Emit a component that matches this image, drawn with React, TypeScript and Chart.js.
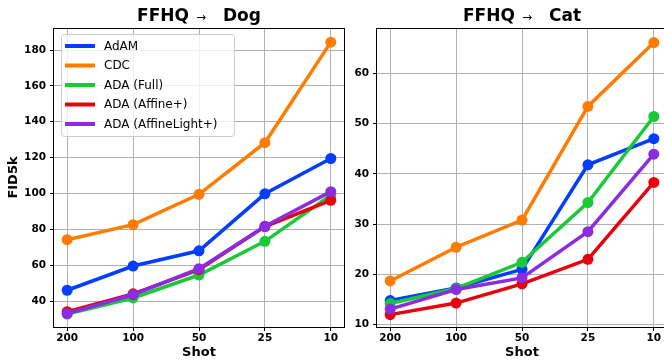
import React, { useEffect, useRef } from "react";
import { Chart, registerables } from "chart.js";

Chart.register(...registerables);

const shots = ["200", "100", "50", "25", "10"];
const seriesLabels = ["AdAM", "CDC", "ADA (Full)", "ADA (Affine+)", "ADA (AffineLight+)"];
const seriesColors = ["#023eff", "#ff7c00", "#1ac938", "#e8000b", "#8b2be2"];

const dogAdAM = [46, 59.5, 68, 99.8, 119.5];
const dogCDC = [74.2, 82.6, 99.5, 128.3, 184.4];
const dogFull = [32.7, 41.7, 54.5, 73.3, 99];
const dogAffine = [34, 44, 57.5, 81.5, 96.2];
const dogLight = [33, 43.5, 58, 81.7, 101];

const catAdAM = [14.8, 17.3, 21, 41.8, 47];
const catCDC = [18.7, 25.4, 30.8, 53.4, 66.1];
const catFull = [14.2, 17.2, 22.4, 34.3, 51.4];
const catAffine = [12, 14.3, 18.1, 23.0, 38.3];
const catLight = [13.1, 17, 19.3, 28.5, 43.9];

const dogYTicks = [40, 60, 80, 100, 120, 140, 160, 180];
const catYTicks = [10, 20, 30, 40, 50, 60];

const FONT = "DejaVu Sans";

function makeDatasets(series: number[][]) {
  return series.map((vals, i) => ({
    label: seriesLabels[i],
    data: vals.map((v, j) => ({ x: j, y: v })),
    borderColor: seriesColors[i],
    backgroundColor: seriesColors[i],
    pointBackgroundColor: seriesColors[i],
    pointBorderWidth: 0,
    pointRadius: 5.5,
    borderWidth: 3.5,
    tension: 0,
    order: series.length - i,
    clip: false as any,
  }));
}

const titlePlugin = (left: string, right: string) => ({
  id: "myTitle",
  afterDraw(chart: any) {
    const ctx = chart.ctx;
    const a = chart.chartArea;
    ctx.save();
    const boldFont = `bold 17px "${FONT}"`;
    const arrowFont = `12px "${FONT}"`;
    const arrow = "\u2192";
    ctx.font = boldFont;
    const wl = ctx.measureText(left).width;
    const wr = ctx.measureText(right).width;
    ctx.font = arrowFont;
    const wa = ctx.measureText(arrow).width;
    const g1 = 7;
    const g2 = 17;
    const total = wl + g1 + wa + g2 + wr;
    let x = (a.left + a.right) / 2 - total / 2;
    const y = 17;
    ctx.fillStyle = "#000";
    ctx.textAlign = "left";
    ctx.textBaseline = "middle";
    ctx.font = boldFont;
    ctx.fillText(left, x, y);
    x += wl + g1;
    ctx.font = arrowFont;
    ctx.fillText(arrow, x, y + 1);
    x += wa + g2;
    ctx.font = boldFont;
    ctx.fillText(right, x, y);
    ctx.restore();
  },
});

const framePlugin = {
  id: "frame",
  afterDatasetsDraw(chart: any) {
    const ctx = chart.ctx;
    const a = chart.chartArea;
    ctx.save();
    ctx.strokeStyle = "#000";
    ctx.lineWidth = 1;
    ctx.strokeRect(Math.round(a.left) - 0.5, Math.round(a.top) + 0.5, Math.round(a.right - a.left) + 1, Math.round(a.bottom - a.top));
    ctx.restore();
  },
};

const legendPlugin = {
  id: "myLegend",
  afterDraw(chart: any) {
    const ctx = chart.ctx;
    const a = chart.chartArea;
    const x0 = a.left + 7;
    const y0 = a.top + 6;
    const w = 173;
    const h = 102;
    ctx.save();
    ctx.beginPath();
    (ctx as any).roundRect(x0 + 0.5, y0 + 0.5, w, h, 3);
    ctx.fillStyle = "rgba(255,255,255,0.8)";
    ctx.fill();
    ctx.strokeStyle = "#cccccc";
    ctx.lineWidth = 1;
    ctx.stroke();
    chart.data.datasets.forEach((ds: any, i: number) => {
      const y = y0 + 12 + i * 19.5;
      ctx.beginPath();
      ctx.moveTo(x0 + 4, y);
      ctx.lineTo(x0 + 34, y);
      ctx.strokeStyle = ds.borderColor;
      ctx.lineWidth = 4;
      ctx.stroke();
      ctx.font = `12px "${FONT}"`;
      ctx.fillStyle = "#000";
      ctx.textAlign = "left";
      ctx.textBaseline = "middle";
      ctx.fillText(ds.label, x0 + 43, y + 0.5);
    });
    ctx.restore();
  },
};

function makeConfig(opts: {
  series: number[][];
  yTicks: number[];
  yMin: number;
  yMax: number;
  yWidth: number;
  yTitle: string | null;
  titleLeft: string;
  titleRight: string;
  padRight: number;
  legend: boolean;
}): any {
  const plugins: any[] = [titlePlugin(opts.titleLeft, opts.titleRight), framePlugin];
  if (opts.legend) plugins.push(legendPlugin);
  return {
    type: "line",
    data: { datasets: makeDatasets(opts.series) },
    plugins,
    options: {
      responsive: false,
      animation: false,
      events: [],
      layout: { padding: { top: 28, right: opts.padRight, left: 0, bottom: 0 } },
      plugins: { legend: { display: false }, tooltip: { enabled: false }, title: { display: false } },
      scales: {
        x: {
          type: "linear",
          min: -0.2,
          max: 4.2,
          afterBuildTicks: (s: any) => {
            s.ticks = shots.map((_, i) => ({ value: i }));
          },
          afterFit: (s: any) => {
            s.height = 33;
          },
          ticks: {
            callback: (v: any) => shots[v] ?? "",
            color: "#000",
            font: { family: FONT, size: 10.5, weight: "bold" },
            padding: 1,
            maxRotation: 0,
            autoSkip: false,
          },
          grid: { color: "#b0b0b0", lineWidth: 1, drawTicks: true, tickLength: 4, tickColor: "#000" },
          border: { display: false },
          title: {
            display: true,
            text: "Shot",
            color: "#000",
            font: { family: FONT, size: 13, weight: "bold" },
            padding: { top: 0, bottom: 0 },
          },
        },
        y: {
          type: "linear",
          min: opts.yMin,
          max: opts.yMax,
          afterBuildTicks: (s: any) => {
            s.ticks = opts.yTicks.map((v) => ({ value: v }));
          },
          afterFit: (s: any) => {
            s.width = opts.yWidth;
          },
          ticks: {
            color: "#000",
            font: { family: FONT, size: 10.5, weight: "bold" },
            padding: 4,
          },
          grid: { color: "#b0b0b0", lineWidth: 1, drawTicks: true, tickLength: 4, tickColor: "#000" },
          border: { display: false },
          title: {
            display: !!opts.yTitle,
            text: opts.yTitle || "",
            color: "#000",
            font: { family: FONT, size: 13, weight: "bold" },
            padding: { top: 6, bottom: 0 },
          },
        },
      },
    },
  };
}

export default function App() {
  const leftRef = useRef<HTMLCanvasElement>(null);
  const rightRef = useRef<HTMLCanvasElement>(null);

  useEffect(() => {
    const c1 = new Chart(
      leftRef.current as HTMLCanvasElement,
      makeConfig({
        series: [dogAdAM, dogCDC, dogFull, dogAffine, dogLight],
        yTicks: dogYTicks,
        yMin: 25.5,
        yMax: 192.3,
        yWidth: 54,
        yTitle: "FID5k",
        titleLeft: "FFHQ",
        titleRight: "Dog",
        padRight: 6,
        legend: true,
      })
    );
    const c2 = new Chart(
      rightRef.current as HTMLCanvasElement,
      makeConfig({
        series: [catAdAM, catCDC, catFull, catAffine, catLight],
        yTicks: catYTicks,
        yMin: 9.54,
        yMax: 69.0,
        yWidth: 27,
        yTitle: null,
        titleLeft: "FFHQ",
        titleRight: "Cat",
        padRight: 13,
        legend: false,
      })
    );
    return () => {
      c1.destroy();
      c2.destroy();
    };
  }, []);

  return (
    <div
      style={{
        position: "fixed",
        left: 0,
        top: 0,
        width: 680,
        height: 360,
        display: "flex",
        background: "#fff",
      }}
    >
      <canvas ref={leftRef} width={350} height={360} style={{ display: "block", width: 350, height: 360 }} />
      <canvas ref={rightRef} width={330} height={360} style={{ display: "block", width: 330, height: 360 }} />
    </div>
  );
}
